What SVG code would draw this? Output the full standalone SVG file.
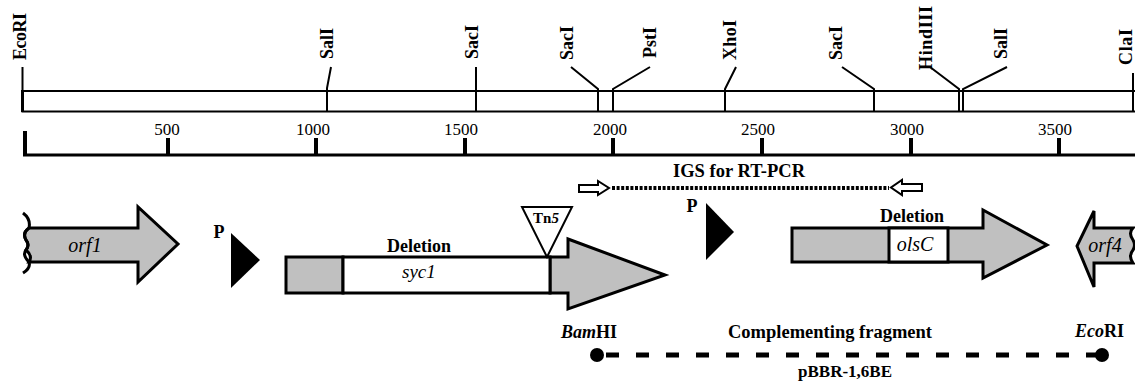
<svg xmlns="http://www.w3.org/2000/svg" width="1135" height="386" viewBox="0 0 1135 386">
<style>
text{font-family:"Liberation Serif","Times New Roman",serif;fill:#000}
.b{font-weight:bold}
.site{font-weight:bold;font-size:18px}
.num{font-size:17px}
.it{font-style:italic;font-size:20px}
.ln{stroke:#000;stroke-width:2;fill:none}
.gene{fill:#c0c0c0;stroke:#000;stroke-width:3;stroke-linejoin:miter}
.wbox{fill:#fff;stroke:#000;stroke-width:3}
.tick{stroke:#000;stroke-width:4}
.prom{fill:#000}
.primer{fill:#fff;stroke:#000;stroke-width:2}
</style>

<g id="restriction-map">
  <rect x="22.5" y="91" width="1120" height="20.5" class="ln"/>
  <line x1="22.5" y1="90" x2="22.5" y2="112" stroke="#000" stroke-width="3"/>
</g>

<g id="sites">
  <g id="site-EcoRI"><path d="M22.5,67 V111" class="ln"/><text class="site" transform="translate(26,60) rotate(-90)" textLength="47" lengthAdjust="spacing">EcoRI</text></g>
  <g id="site-SalI-1"><path d="M331,67 L327,88 V111" class="ln"/><text class="site" transform="translate(333,59) rotate(-90)">SalI</text></g>
  <g id="site-SacI-1"><path d="M476,67 V111" class="ln"/><text class="site" transform="translate(478,59) rotate(-90)">SacI</text></g>
  <g id="site-SacI-2"><path d="M571,67 L598,89 V111" class="ln"/><text class="site" transform="translate(573,60) rotate(-90)">SacI</text></g>
  <g id="site-PstI"><path d="M650,67 L613,89 V111" class="ln"/><text class="site" transform="translate(656,58) rotate(-90)">PstI</text></g>
  <g id="site-XhoI"><path d="M736,67 L725,89 V111" class="ln"/><text class="site" transform="translate(736,60) rotate(-90)" textLength="40" lengthAdjust="spacing">XhoI</text></g>
  <g id="site-SacI-3"><path d="M842,67 L874,89 V111" class="ln"/><text class="site" transform="translate(842,60) rotate(-90)">SacI</text></g>
  <g id="site-HindIII"><path d="M930,67 L959,89 V111" class="ln"/><text class="site" transform="translate(932,70) rotate(-90)" textLength="64" lengthAdjust="spacing">HindIII</text></g>
  <g id="site-SalI-2"><path d="M1007,67 L963,89 V111" class="ln"/><text class="site" transform="translate(1007,59) rotate(-90)">SalI</text></g>
  <g id="site-ClaI"><path d="M1133,73 V111" class="ln"/><text class="site" transform="translate(1132,65) rotate(-90)" textLength="36" lengthAdjust="spacing">ClaI</text></g>
</g>

<g id="scale">
  <line x1="23" y1="155" x2="1135" y2="155" stroke="#000" stroke-width="3"/>
  <line x1="25" y1="131" x2="25" y2="156" class="tick"/>
  <line x1="168" y1="138" x2="168" y2="155" class="tick"/>
  <line x1="316" y1="138" x2="316" y2="155" class="tick"/>
  <line x1="465" y1="138" x2="465" y2="155" class="tick"/>
  <line x1="613" y1="138" x2="613" y2="155" class="tick"/>
  <line x1="762" y1="138" x2="762" y2="155" class="tick"/>
  <line x1="911" y1="138" x2="911" y2="155" class="tick"/>
  <line x1="1059" y1="138" x2="1059" y2="155" class="tick"/>
  <g class="num" text-anchor="middle">
    <text x="167" y="135">500</text>
    <text x="313" y="135">1000</text>
    <text x="461" y="135">1500</text>
    <text x="610" y="135">2000</text>
    <text x="758" y="135">2500</text>
    <text x="907" y="135">3000</text>
    <text x="1055" y="135">3500</text>
  </g>
</g>

<g id="orf1">
  <path class="gene" d="M29,228 H138 V207 L178,244 L138,282 V262 H29 Q33,256 26,250 Q30,245 26,240 Q22,233 29,228 Z"/>
  <path d="M23,213 Q31,219 29,228 Q22,233 26,240 Q30,245 26,250 Q22,255 29,262 Q31,268 23,273" fill="none" stroke="#000" stroke-width="3"/>
  <text class="it" x="85" y="252" text-anchor="middle">orf1</text>
</g>

<g id="promoter-1">
  <text class="b" x="219" y="238" font-size="18" text-anchor="middle">P</text>
  <polygon class="prom" points="231,233 231,288 260,260"/>
</g>

<g id="syc1">
  <path class="gene" d="M550,257 H568 V239 L665,275 L568,309 V293 H550 Z"/>
  <rect class="gene" x="286" y="257" width="57" height="36"/>
  <rect class="wbox" x="343" y="257" width="207" height="36"/>
  <text class="b" x="419" y="252" font-size="18" text-anchor="middle">Deletion</text>
  <text x="402" y="278" font-size="19" font-style="italic">syc1</text>
</g>

<g id="Tn5">
  <polygon points="522,207 572,207 547,257" fill="#fff" stroke="#000" stroke-width="2"/>
  <text class="b" x="546" y="223" font-size="15" text-anchor="middle">Tn<tspan font-style="italic">5</tspan></text>
</g>

<g id="promoter-2">
  <text class="b" x="692" y="212" font-size="18" text-anchor="middle">P</text>
  <polygon class="prom" points="706,203 706,260 734,232"/>
</g>

<g id="olsC">
  <path class="gene" d="M792,228 H983 V210 L1047,245 L983,278 V262 H792 Z"/>
  <rect class="wbox" x="889" y="228" width="59" height="34"/>
  <text class="b" x="912" y="222" font-size="18" text-anchor="middle">Deletion</text>
  <text class="it" x="915" y="251" text-anchor="middle">olsC</text>
</g>

<g id="orf4">
  <path class="gene" d="M1133,228 H1094 V211 L1077,246 L1094,287 V263 H1133 Q1128,256 1133,250 Q1136,245 1133,240 Q1128,233 1133,228 Z"/>
  <text class="it" x="1105" y="252" text-anchor="middle">orf4</text>
</g>

<g id="igs">
  <text class="b" x="673" y="177" font-size="18.5" textLength="132" lengthAdjust="spacing">IGS for RT-PCR</text>
</g>

<g id="primer-f">
  <polygon class="primer" points="579,185 598,185 598,181 609,188 598,195 598,192 579,192"/>
</g>
<g id="primer-r">
  <polygon class="primer" points="922,184 902,184 902,180 891,187.5 902,195 902,191 922,191"/>
</g>

<g id="complementing-fragment">
  <text x="561" y="338" font-size="18" class="b"><tspan font-style="italic">Bam</tspan>HI</text>
  <text class="b" x="728" y="338" font-size="18.5" textLength="204" lengthAdjust="spacing">Complementing fragment</text>
  <text x="1075" y="337" font-size="18" class="b"><tspan font-style="italic">Eco</tspan>RI</text>
  <text class="b" x="845" y="377" font-size="17" text-anchor="middle">pBBR-1,6BE</text>
  <circle cx="597" cy="355" r="7" fill="#000"/>
  <circle cx="1102" cy="355" r="7" fill="#000"/>
</g>

<g id="connectors">
  <line x1="612" y1="188" x2="889" y2="188" stroke="#000" stroke-width="4" stroke-dasharray="3 1.6"/>
  <line x1="597" y1="355" x2="1102" y2="355" stroke="#000" stroke-width="5" stroke-dasharray="0 9 13 8"/>
</g>
</svg>
